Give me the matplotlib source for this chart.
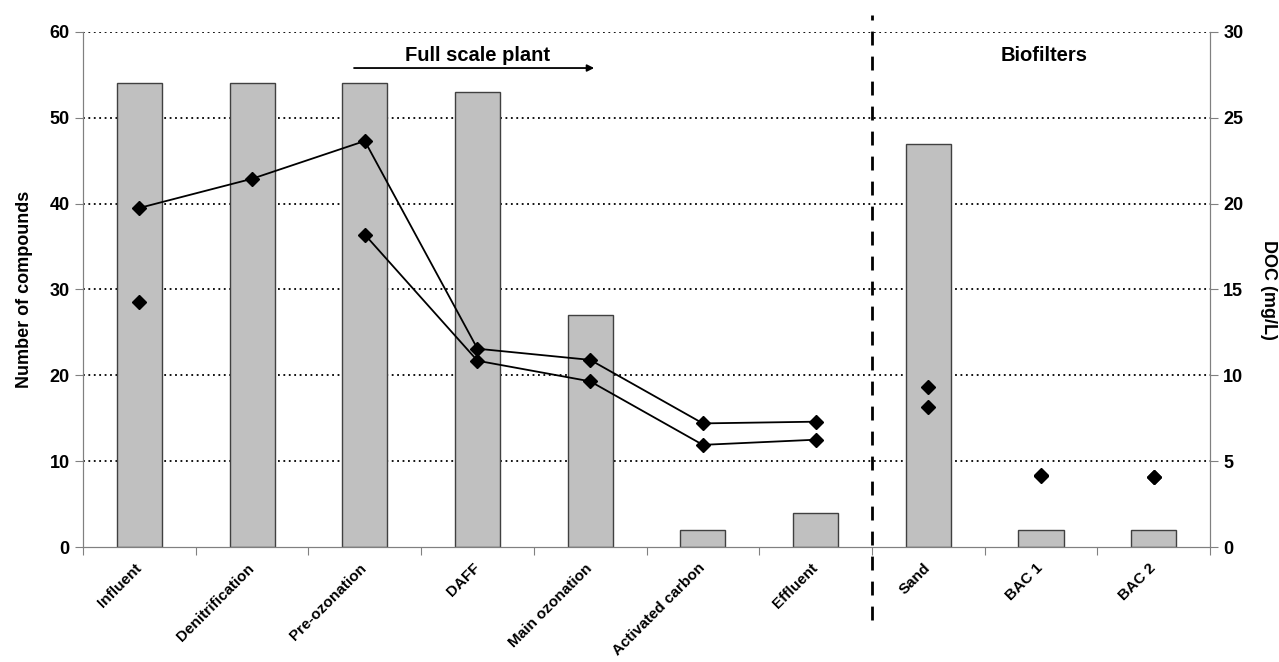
import matplotlib.pyplot as plt
import matplotlib.transforms as mtransforms
import numpy as np

plt.rcParams['font.family'] = ['Liberation Sans', 'DejaVu Sans']
plt.rcParams['font.weight'] = 'bold'

# data
stages = ['Influent', 'Denitrification', 'Pre-ozonation', 'DAFF', 'Main ozonation',
          'Activated carbon', 'Effluent', 'Sand', 'BAC 1', 'BAC 2']
n_compounds = [54, 54, 54, 53, 27, 2, 4, 47, 2, 2]

# DOC (mg/L), two series; NaN = not measured
doc_a = [19.75, 21.45, 23.65, 11.55, 10.9, 7.2, 7.3, 9.3, 4.2, 4.1]
doc_b = [14.25, np.nan, 18.2, 10.85, 9.65, 5.95, 6.25, 8.15, 4.15, 4.05]

n_plant = 7  # first 7 stages = full scale plant, rest = biofilters

x = np.arange(len(stages))

fig = plt.figure(figsize=(12.79, 6.62), dpi=100)
ax = fig.add_axes([0.0649, 0.1737, 0.8812, 0.778])
ax2 = ax.twinx()

# bars
ax.bar(x, n_compounds, width=0.4, color='#c0c0c0', edgecolor='#404040', linewidth=1, zorder=2)
ax.set_axisbelow(True)
ax.set_xlim(-0.5, len(stages) - 0.5)
ax.set_ylim(0, 60)
ax.set_yticks(np.arange(0, 61, 10))
ax.yaxis.grid(True, color='black', linestyle=(0, (1, 2)), linewidth=1.3)
ax.get_ygridlines()[0].set_visible(False)

# category boundaries as major ticks, names at centres as minor ticks
ax.set_xticks(np.arange(-0.5, len(stages), 1))
ax.set_xticklabels([])
ax.set_xticks(x, minor=True)
ax.set_xticklabels(stages, minor=True, rotation=45, ha='right', rotation_mode='anchor',
                   fontsize=11, fontweight='bold')
ax.tick_params(axis='x', which='minor', length=0, pad=10)
ax.tick_params(axis='x', which='major', length=6, color='#808080')
ax.tick_params(axis='y', length=6, color='#808080', labelsize=13)
shift = mtransforms.ScaledTranslation(-5 / 100, 0, fig.dpi_scale_trans)
for lab in ax.get_xticklabels(minor=True):
    lab.set_transform(lab.get_transform() + shift)

# DOC series: lines through the plant, markers only for biofilters
for s in (doc_a, doc_b):
    s = np.array(s)
    ax2.plot(x[:n_plant], s[:n_plant], color='black', marker='D', markersize=7, linewidth=1.3)
    ax2.plot(x[n_plant:], s[n_plant:], color='black', marker='D', markersize=7, linestyle='none')
ax2.set_ylim(0, 30)
ax2.set_yticks(np.arange(0, 31, 5))
ax2.tick_params(axis='y', length=6, color='#808080', labelsize=13)

for a in (ax, ax2):
    a.spines['top'].set_visible(False)
    for side in ('left', 'right', 'bottom'):
        a.spines[side].set_color('#808080')
    for lab in a.get_yticklabels():
        lab.set_fontweight('bold')

ax.set_ylabel('Number of compounds', fontsize=13, fontweight='bold', labelpad=12)
ax2.set_ylabel('DOC (mg/L)', fontsize=13, fontweight='bold', rotation=-90, labelpad=24)

# separator between plant and biofilters
ax.plot([n_plant - 0.5, n_plant - 0.5], [-0.142, 1.033], color='black', linewidth=2,
        linestyle=(0, (5, 4)), transform=ax.get_xaxis_transform(), clip_on=False, zorder=5)

# section labels
ax.text(3.0, 57.3, 'Full scale plant', ha='center', va='center', fontsize=14.5, fontweight='bold')
ax.annotate('', xy=(4.06, 55.8), xytext=(1.88, 55.8),
            arrowprops=dict(arrowstyle='-|>', color='black', lw=1.3, mutation_scale=10))
ax.text(8.03, 57.3, 'Biofilters', ha='center', va='center', fontsize=14.5, fontweight='bold')

plt.savefig('out.png', dpi=100)
